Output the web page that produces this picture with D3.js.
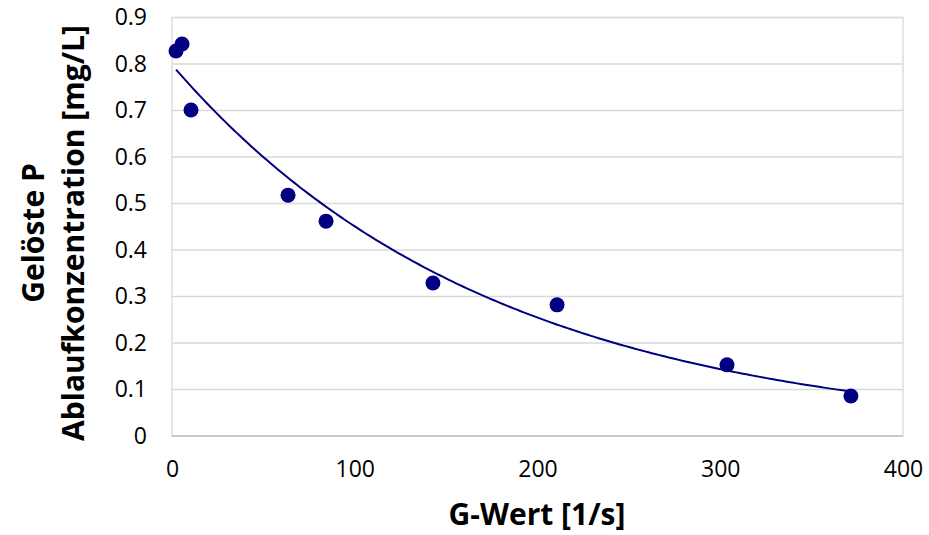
<!DOCTYPE html>
<html>
<head>
<meta charset="utf-8">
<script src="https://cdn.jsdelivr.net/npm/d3@7"></script>
<style>
  html, body { margin: 0; padding: 0; background: #fff; }
  svg { display: block; font-family: "Open Sans", sans-serif; }
</style>
</head>
<body>
<svg id="chart" width="929" height="535"></svg>
<script>
// Data
const gWert = [2.2, 5.5, 10.4, 63.5, 84.3, 142.8, 210.7, 303.7, 371.5];
const concentration = [0.828, 0.843, 0.701, 0.518, 0.462, 0.329, 0.282, 0.153, 0.086];
const xTicks = [0, 100, 200, 300, 400];
const yTicks = [0, 0.1, 0.2, 0.3, 0.4, 0.5, 0.6, 0.7, 0.8, 0.9];
const xTitle = "G-Wert [1/s]";
const yTitleLines = ["Gelöste P", "Ablaufkonzentration [mg/L]"];

const svg = d3.select("#chart");
const margin = { left: 172, right: 26, top: 17.5, bottom: 99 };
const W = 929, H = 535;
const x = d3.scaleLinear().domain([0, 400]).range([margin.left, W - margin.right]);
const y = d3.scaleLinear().domain([0, 0.9]).range([H - margin.bottom, margin.top]);

// gridlines
svg.append("g").selectAll("line").data(yTicks.filter(d => d > 0)).join("line")
  .attr("x1", x(0)).attr("x2", x(400))
  .attr("y1", d => y(d)).attr("y2", d => y(d))
  .attr("stroke", "#d9d9d9").attr("stroke-width", 1.3);

// plot frame
svg.append("rect")
  .attr("x", x(0)).attr("y", y(0.9))
  .attr("width", x(400) - x(0)).attr("height", y(0) - y(0.9))
  .attr("fill", "none").attr("stroke", "#d9d9d9").attr("stroke-width", 1.3);
svg.append("line").attr("x1", x(0)).attr("x2", x(400)).attr("y1", y(0)).attr("y2", y(0))
  .attr("stroke", "#bfbfbf").attr("stroke-width", 1.5);

// axes
const xAxis = d3.axisBottom(x).tickValues(xTicks).tickSize(0).tickPadding(25).tickFormat(d3.format("d"));
const gx = svg.append("g").attr("transform", `translate(0,${y(0)})`).call(xAxis);
gx.select(".domain").remove();
gx.selectAll("text").attr("font-size", 23).attr("fill", "#000").attr("font-family", "Open Sans");

const yAxis = d3.axisLeft(y).tickValues(yTicks).tickSize(0).tickPadding(25).tickFormat(d => d === 0 ? "0" : d3.format(".1f")(d));
const gy = svg.append("g").attr("transform", `translate(${x(0)},0)`).call(yAxis);
gy.select(".domain").remove();
gy.selectAll("text").attr("font-size", 23).attr("fill", "#000").attr("font-family", "Open Sans");

// exponential trendline (least squares on ln y)
const n = gWert.length;
const ly = concentration.map(Math.log);
const mx = d3.mean(gWert), my = d3.mean(ly);
let sxy = 0, sxx = 0;
for (let i = 0; i < n; i++) { sxy += (gWert[i] - mx) * (ly[i] - my); sxx += (gWert[i] - mx) ** 2; }
const b = sxy / sxx, a = Math.exp(my - b * mx);
const xMin = d3.min(gWert), xMax = d3.max(gWert);
const trend = d3.range(0, 201).map(i => xMin + (xMax - xMin) * i / 200).map(v => [v, a * Math.exp(b * v)]);
svg.append("path").datum(trend)
  .attr("d", d3.line().x(d => x(d[0])).y(d => y(d[1])))
  .attr("fill", "none").attr("stroke", "#000080").attr("stroke-width", 2);

// points
svg.append("g").selectAll("circle").data(gWert.map((g, i) => [g, concentration[i]])).join("circle")
  .attr("cx", d => x(d[0])).attr("cy", d => y(d[1])).attr("r", 7.5)
  .attr("fill", "#000080");

// titles
svg.append("text").attr("x", 537).attr("y", 525)
  .attr("text-anchor", "middle").attr("font-size", 30).attr("font-weight", "bold")
  .text(xTitle);
svg.append("text").attr("transform", `translate(44,233) rotate(-90)`)
  .attr("text-anchor", "middle").attr("font-size", 30).attr("font-weight", "bold")
  .selectAll("tspan").data(yTitleLines).join("tspan")
  .attr("x", 0).attr("dy", (d, i) => i === 0 ? 0 : 40).text(d => d);
</script>
</body>
</html>
